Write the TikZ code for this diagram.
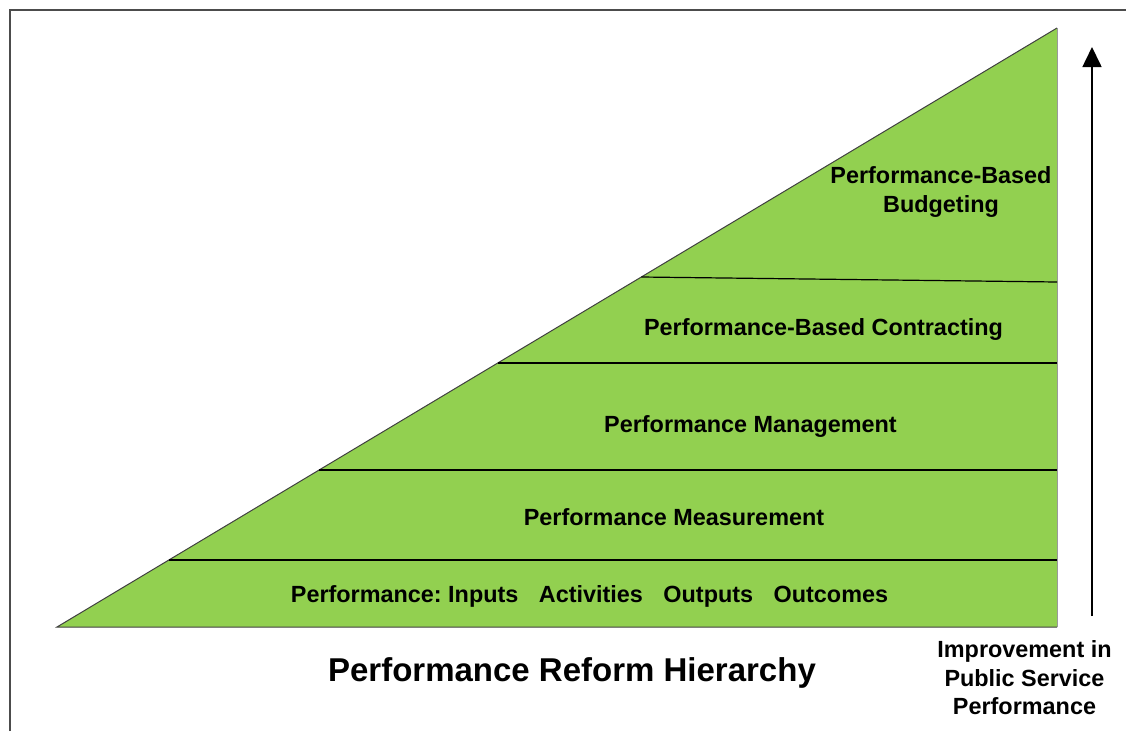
\documentclass[tikz,border=0pt]{standalone}
\usepackage{fontspec}
\setmainfont{Liberation Sans}
\usetikzlibrary{arrows.meta}
\definecolor{tgreen}{HTML}{92D050}
\definecolor{edgegray}{HTML}{404040}
\frenchspacing
\tikzset{
  lbl/.style={anchor=base, inner sep=0pt, font=\fontsize{23.4}{28}\selectfont\bfseries, text=black},
  ttl/.style={anchor=base, inner sep=0pt, font=\fontsize{33}{38}\selectfont\bfseries, text=black},
  divider/.style={draw=black, line width=1.2pt},
}
\begin{document}
\begin{tikzpicture}[x=1pt,y=-1pt]
\useasboundingbox (0,0) rectangle (1126,731);
% frame
\draw[draw=black!70, line width=2pt] (10,731) -- (10,10) -- (1126,10);
% triangle
\coordinate (A) at (57,627);
\coordinate (B) at (1057,627);
\coordinate (C) at (1057,28);
\fill[tgreen] (A) -- (B) -- (C) -- cycle;
\draw[edgegray, line width=1pt] (B) -- (A) -- (C);
\draw[black!40, line width=1pt] (C) -- (B);
% dividers
\coordinate (d1l) at (168.9,560); \coordinate (d1r) at (1057,560);
\coordinate (d2l) at (319.1,470); \coordinate (d2r) at (1057,470);
\coordinate (d3l) at (497.7,363); \coordinate (d3r) at (1057,363);
\coordinate (d4l) at (641.3,277); \coordinate (d4r) at (1057,282);
\draw[divider] (d1l) -- (d1r);
\draw[divider] (d2l) -- (d2r);
\draw[divider] (d3l) -- (d3r);
\draw[divider] (d4l) -- (d4r);
% labels
\node[lbl] (b1) at (941,183) {Performance-Based};
\node[lbl] (b2) at (941,212) {Budgeting};
\node[lbl] (con) at (823.5,335) {Performance-Based Contracting};
\node[lbl] (man) at (750.5,432) {Performance Management};
\node[lbl] (mea) at (674,525) {Performance Measurement};
\node[lbl] (inp) at (589.5,602) {Performance: Inputs\hspace{14pt} Activities\hspace{14pt} Outputs\hspace{14pt} Outcomes};
% title
\node[ttl] (title) at (572,681) {Performance Reform Hierarchy};
% arrow
\coordinate (ab) at (1092,616);
\coordinate (at) at (1092,47);
\draw[black, line width=1.6pt, -{Triangle[length=20pt,width=19pt]}] (ab) -- (at);
\node[lbl] (r1) at (1024.5,657) {Improvement in};
\node[lbl] (r2) at (1024.5,686) {Public Service};
\node[lbl] (r3) at (1024.5,714) {Performance};
\end{tikzpicture}
\end{document}
